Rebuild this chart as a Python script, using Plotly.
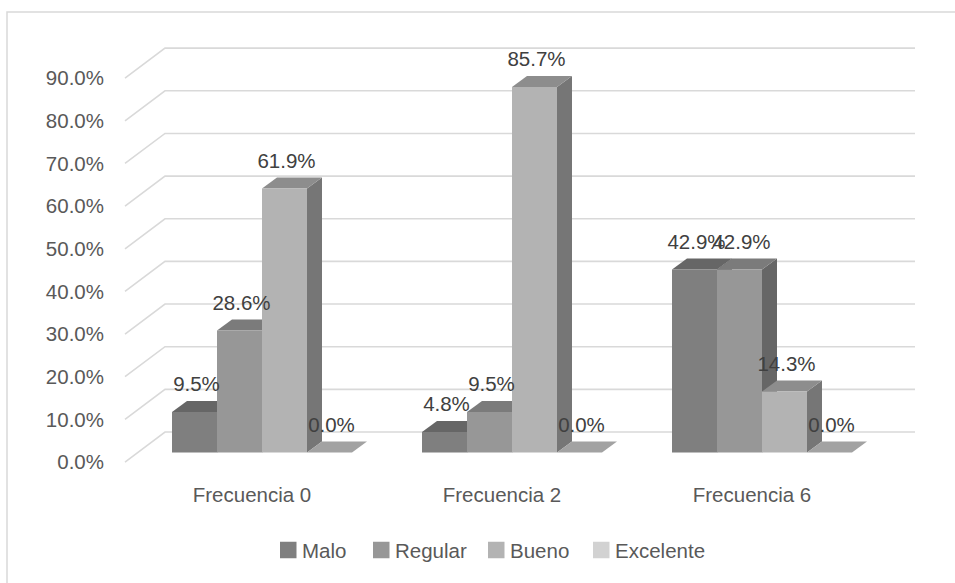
import plotly.graph_objects as go

# ---------------- data ----------------
categories = ["Frecuencia 0", "Frecuencia 2", "Frecuencia 6"]
series_names = ["Malo", "Regular", "Bueno", "Excelente"]
malo = [9.5, 4.8, 42.9]
regular = [28.6, 9.5, 42.9]
bueno = [61.9, 85.7, 14.3]
excelente = [0.0, 0.0, 0.0]
y_ticks = [0, 10, 20, 30, 40, 50, 60, 70, 80, 90]
y_tick_labels = ["0.0%", "10.0%", "20.0%", "30.0%", "40.0%", "50.0%",
                 "60.0%", "70.0%", "80.0%", "90.0%"]

series_values = [malo, regular, bueno, excelente]

# ---------------- style ----------------
front_colors = ["#7f7f7f", "#979797", "#b3b3b3", "#d2d2d2"]
top_colors = ["#666666", "#7b7b7b", "#8d8d8d", "#a2a2a2"]
side_colors = ["#5c5c5c", "#666666", "#767676", "#8c8c8c"]
FONT = "Liberation Sans"
FSIZE = 20.5
AXIS_TXT = "#595959"
LABEL_TXT = "#404040"

W, H = 955, 583
ML, MR, MT, MB = 120, 25, 40, 113
PW, PH = W - ML - MR, H - MT - MB

BAR_W = 0.18          # bar width in category units
DX, DY = 0.06, 2.58   # bar depth projection (x units, % units)
WALL_DX, WALL_DY = 0.107, 4.81     # bar plane -> back wall
FRONT_DX, FRONT_DY = -0.053, -2.23  # bar plane -> front (label) plane
GRID_LEFT = -0.548
GRID_RIGHT = 2.612
LABEL_SHIFT_X = -0.04
DATA_LABEL_DY = 6.1


def px_to_paper(px, py):
    return (px - ML) / PW, (H - MB - py) / PH


fig = go.Figure()

# gridlines (front slant + back wall)
gx, gy = [], []
for t in y_ticks:
    gx += [GRID_LEFT, GRID_LEFT + (WALL_DX - FRONT_DX), GRID_RIGHT, None]
    gy += [t + FRONT_DY, t + WALL_DY, t + WALL_DY, None]
fig.add_trace(go.Scatter(x=gx, y=gy, mode="lines",
                         line=dict(color="#d9d9d9", width=1.6),
                         hoverinfo="skip", showlegend=False))

# bars (painted left to right)
label_x, label_y, label_t = [], [], []
for gi, cat in enumerate(categories):
    for si, name in enumerate(series_names):
        v = series_values[si][gi]
        left = gi - 2 * BAR_W + si * BAR_W
        right = left + BAR_W
        polys = [
            ([right, right + DX, right + DX, right, right],
             [0, DY, v + DY, v, 0], side_colors[si]),
            ([left, right, right + DX, left + DX, left],
             [v, v, v + DY, v + DY, v], top_colors[si]),
            ([left, right, right, left, left],
             [0, 0, v, v, 0], front_colors[si]),
        ]
        for px, py, col in polys:
            fig.add_trace(go.Scatter(x=px, y=py, mode="lines", fill="toself",
                                     fillcolor=col, line=dict(width=0, color=col),
                                     hoverinfo="skip", showlegend=False,
                                     name=name))
        label_x.append(left + BAR_W / 2 + 0.008)
        label_y.append(v + DATA_LABEL_DY)
        label_t.append(f"{v:.1f}%")

# data labels
fig.add_trace(go.Scatter(x=label_x, y=label_y, text=label_t, mode="text",
                         textfont=dict(family=FONT, size=FSIZE, color=LABEL_TXT),
                         hoverinfo="skip", showlegend=False))

# legend (manual, to match square size and spacing)
legend_square_px = [280, 373, 488, 593]
LEG_Y = 550
SQ = 16.5
for si, name in enumerate(series_names):
    x0, y0 = px_to_paper(legend_square_px[si], LEG_Y + SQ / 2)
    x1, y1 = px_to_paper(legend_square_px[si] + SQ, LEG_Y - SQ / 2)
    fig.add_shape(type="rect", xref="paper", yref="paper",
                  x0=x0, x1=x1, y0=y0, y1=y1,
                  line=dict(width=0), fillcolor=front_colors[si])
    tx, ty = px_to_paper(legend_square_px[si] + SQ + 3, LEG_Y)
    fig.add_annotation(x=tx, y=ty, xref="paper", yref="paper", text=name,
                       showarrow=False, xanchor="left", yanchor="middle",
                       font=dict(family=FONT, size=FSIZE, color=AXIS_TXT))

# chart border
bx0, by1 = px_to_paper(7, 12)
bx1, by0 = px_to_paper(965, 600)
fig.add_shape(type="rect", xref="paper", yref="paper",
              x0=bx0, x1=bx1, y0=by0, y1=by1,
              line=dict(color="#d9d9d9", width=1.5), fillcolor="rgba(0,0,0,0)")

fig.update_layout(
    width=W, height=H,
    margin=dict(l=ML, r=MR, t=MT, b=MB),
    paper_bgcolor="white", plot_bgcolor="white",
    showlegend=False,
    xaxis=dict(type="linear", range=[-0.568, 2.672], showgrid=False,
               zeroline=False, showline=False,
               tickvals=[gi + LABEL_SHIFT_X for gi in range(len(categories))],
               ticktext=categories, ticks="", ticklabelstandoff=10,
               tickfont=dict(family=FONT, size=FSIZE, color=AXIS_TXT)),
    yaxis=dict(range=[-4.10, 96.72], showgrid=False, zeroline=False,
               showline=False,
               tickvals=[t + FRONT_DY for t in y_ticks],
               ticktext=y_tick_labels, ticks="", ticklabelstandoff=15,
               tickfont=dict(family=FONT, size=FSIZE, color=AXIS_TXT)),
)

fig.write_html("out.html")
